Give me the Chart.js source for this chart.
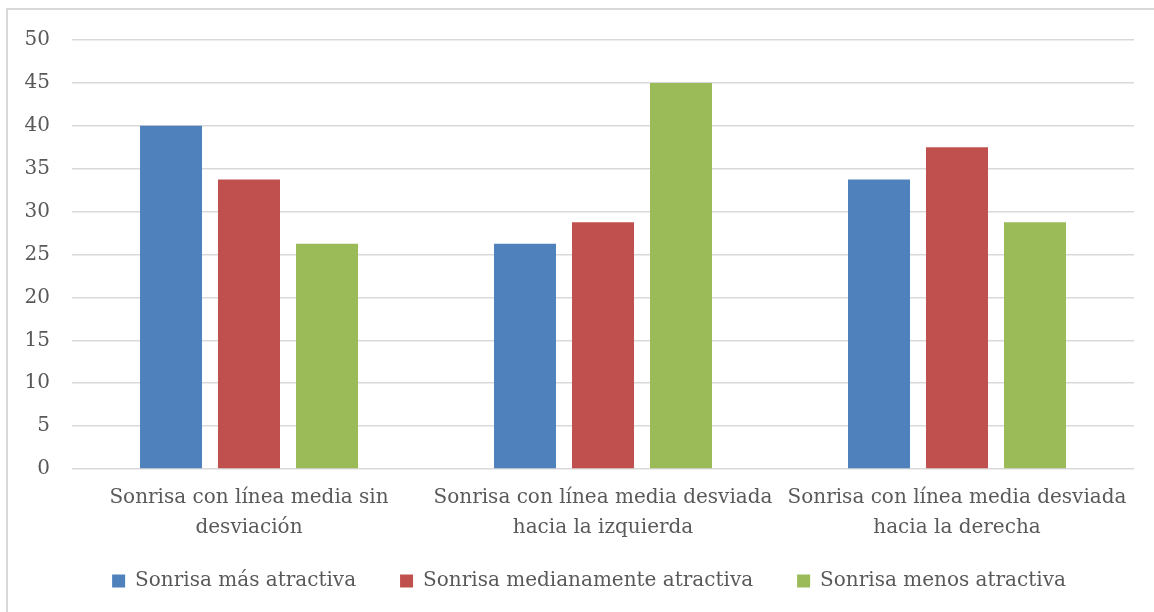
<!DOCTYPE html>
<html>
<head>
<meta charset="utf-8">
<script src="https://cdn.jsdelivr.net/npm/chart.js@4"></script>
<style>
  html, body { margin: 0; padding: 0; background: #fff; overflow: hidden; }
  #wrap { position: relative; width: 1154px; height: 612px; }
  #frame { position: absolute; left: 6px; top: 8px; width: 1200px; height: 700px; border: 2px solid #D9D9D9; box-sizing: border-box; }
  canvas { position: absolute; left: 0; top: 0; }
</style>
</head>
<body>
<div id="wrap">
  <div id="frame"></div>
  <canvas id="c" width="1154" height="612"></canvas>
</div>
<script>
const categories = [
  ["Sonrisa con línea media sin", "desviación"],
  ["Sonrisa con línea media desviada", "hacia la izquierda"],
  ["Sonrisa con línea media desviada", "hacia la derecha"]
];
const seriesNames = ["Sonrisa más atractiva", "Sonrisa medianamente atractiva", "Sonrisa menos atractiva"];
const masAtractiva = [40, 26.25, 33.75];
const medianamenteAtractiva = [33.75, 28.75, 37.5];
const menosAtractiva = [26.25, 45, 28.75];
const yTicks = { min: 0, max: 50, step: 5 };

const FONT = "'DejaVu Serif', serif";
const TXT = "#595959";
const X_SHRINK = 22;

const tweakLayout = {
  id: 'tweakLayout',
  afterLayout(chart) {
    const lg = chart.legend;
    if (lg) { lg.left += 22; lg.right += 22; }
    const x = chart.scales.x;
    if (x) { x.bottom += X_SHRINK; }
  }
};

new Chart(document.getElementById('c'), {
  type: 'bar',
  data: {
    labels: categories,
    datasets: [
      { label: seriesNames[0], data: masAtractiva, backgroundColor: '#4F81BD' },
      { label: seriesNames[1], data: medianamenteAtractiva, backgroundColor: '#C0504D' },
      { label: seriesNames[2], data: menosAtractiva, backgroundColor: '#9BBB59' }
    ]
  },
  plugins: [tweakLayout],
  options: {
    responsive: false,
    animation: false,
    devicePixelRatio: 1,
    layout: { padding: { left: 0, right: 20, top: 40, bottom: 11 } },
    datasets: { bar: { categoryPercentage: 0.661, barPercentage: 0.795 } },
    scales: {
      x: {
        grid: { display: false },
        border: { display: false },
        ticks: { color: TXT, font: { family: FONT, size: 20, lineHeight: 1.5 }, maxRotation: 0, autoSkip: false, padding: 6 },
        afterFit: (s) => { s.height -= X_SHRINK; }
      },
      y: {
        min: yTicks.min, max: yTicks.max,
        grid: { color: '#D9D9D9', lineWidth: 1.5, drawTicks: false },
        border: { display: false },
        ticks: { stepSize: yTicks.step, color: TXT, font: { family: FONT, size: 20 }, padding: 22 },
        afterFit: (s) => { s.width = 72; }
      }
    },
    plugins: {
      legend: {
        position: 'bottom',
        labels: { color: TXT, font: { family: FONT, size: 20 }, boxWidth: 13, boxHeight: 13, padding: 44 }
      },
      tooltip: { enabled: false }
    }
  }
});
</script>
</body>
</html>
